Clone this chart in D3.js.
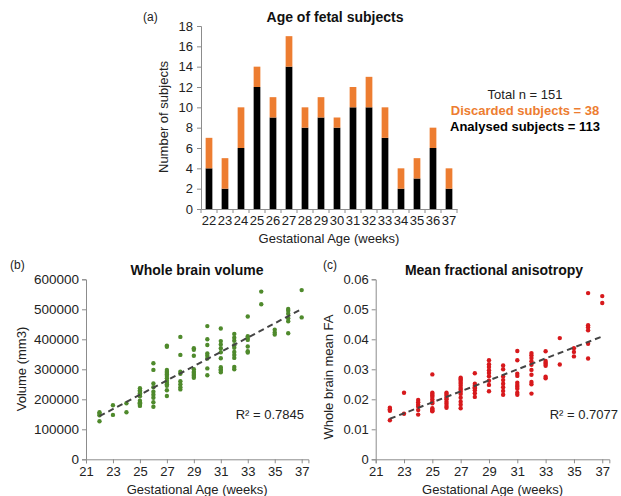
<!DOCTYPE html>
<html><head><meta charset="utf-8">
<script src="https://cdn.jsdelivr.net/npm/d3@7"></script>
<style>body{margin:0;background:#fff}svg{display:block;font-family:"Liberation Sans",Arial,sans-serif}</style>
</head><body><svg id="c" width="621" height="496"></svg>
<script>
// ---------- Data ----------
const weeks = [22,23,24,25,26,27,28,29,30,31,32,33,34,35,36,37];
const analysed  = [4,2,6,12,9,14,8,9,8,10,10,7,2,3,6,2];
const discarded = [3,3,4,2,2,3,2,2,1,2,3,3,2,2,2,2];
const countTicks = [0,2,4,6,8,10,12,14,16,18];

const volumeByWeek = {
  22:[157000,152000,147000,127000],
  23:[180000,148000],
  24:[187000,157000],
  25:[237000,230000,225000,220000,215000,210000,195000,190000,187000,185000,182000,178000],
  26:[320000,298000,253000,240000,225000,215000,205000,190000,175000],
  27:[379000,375000,298000,292000,288000,283000,278000,270000,262000,255000,250000,245000,230000,211000],
  28:[408000,348000,292000,285000,260000,250000,240000,233000],
  29:[370000,365000,345000,300000,292000,288000,282000,278000,272000],
  30:[444000,400000,381000,353000,345000,336000,303000,280000],
  31:[436000,394000,383000,370000,357000,337000,307000,300000,296000,290000],
  32:[418000,405000,395000,380000,372000,358000,348000,338000,308000,300000],
  33:[476000,410000,404000,398000,376000,360000,356000],
  34:[559000,517000],
  35:[432000,423000,416000],
  36:[501000,495000,485000,470000,460000,420000],
  37:[564000,473000]
};
const faByWeek = {
  22:[0.0172,0.0167,0.0162,0.0130],
  23:[0.0222,0.0152],
  24:[0.0198,0.0190,0.0182,0.0175,0.0164,0.0149],
  25:[0.0283,0.0222,0.0218,0.0213,0.0208,0.0200,0.0192,0.0187,0.0170,0.0165,0.0162,0.0160],
  26:[0.0222,0.0218,0.0212,0.0205,0.0200,0.0192,0.0185,0.0178,0.0172],
  27:[0.0272,0.0268,0.0264,0.0258,0.0252,0.0245,0.0238,0.0232,0.0225,0.0218,0.0205,0.0192,0.0182,0.0170],
  28:[0.0287,0.0252,0.0245,0.0240,0.0237,0.0230,0.0220,0.0208],
  29:[0.0330,0.0317,0.0308,0.0297,0.0288,0.0277,0.0262,0.0248,0.0227],
  30:[0.0313,0.0300,0.0276,0.0264,0.0252,0.0240,0.0228,0.0215],
  31:[0.0361,0.0330,0.0285,0.0278,0.0255,0.0248,0.0242,0.0235,0.0222,0.0215],
  32:[0.0354,0.0347,0.0338,0.0327,0.0315,0.0298,0.0282,0.0258,0.0250,0.0219],
  33:[0.0360,0.0328,0.0322,0.0318,0.0312,0.0275,0.0270],
  34:[0.0404,0.0316],
  35:[0.0370,0.0358,0.0343],
  36:[0.0554,0.0447,0.0440,0.0430,0.0385,0.0336],
  37:[0.0544,0.0521]
};
const ageTicks = [21,23,25,27,29,31,33,35,37];
const volumeTicks = [0,100000,200000,300000,400000,500000,600000];
const faTicks = [0,0.01,0.02,0.03,0.04,0.05,0.06];
const r2Volume = "R² = 0.7845";
const r2FA = "R² = 0.7077";

// ---------- Helpers ----------
const svg = d3.select("#c");
const FONT = "#222";
const AXIS = "#8c8c8c";

function styleAxis(g){
  g.select(".domain").attr("stroke",AXIS).attr("stroke-width",1);
  g.selectAll(".tick line").attr("stroke",AXIS);
  g.selectAll(".tick text").attr("fill",FONT).attr("font-size",13).attr("font-family","Liberation Sans, Arial, sans-serif");
}
function flatten(obj){
  const out=[];
  Object.keys(obj).forEach(k=>obj[k].forEach(v=>out.push({x:+k,y:v})));
  return out;
}
function linfit(pts){
  const mx=d3.mean(pts,d=>d.x), my=d3.mean(pts,d=>d.y);
  let sxy=0,sxx=0; pts.forEach(d=>{sxy+=(d.x-mx)*(d.y-my);sxx+=(d.x-mx)**2;});
  const b=sxy/sxx; return {a:my-b*mx,b};
}

// ---------- Panel (a) ----------
{
  const x = d3.scaleBand().domain(weeks).range([201,457]).paddingInner(0.58).paddingOuter(0.29);
  const y = d3.scaleLinear().domain([0,18]).range([209,26]);
  const stackData = weeks.map((w,i)=>({week:w,analysed:analysed[i],discarded:discarded[i]}));
  const series = d3.stack().keys(["analysed","discarded"])(stackData);
  const colors = {analysed:"#000000",discarded:"#ED7D31"};
  svg.append("g").selectAll("g").data(series).join("g")
    .attr("fill",d=>colors[d.key])
    .selectAll("rect").data(d=>d).join("rect")
    .attr("x",d=>x(d.data.week)).attr("width",x.bandwidth())
    .attr("y",d=>y(d[1])).attr("height",d=>y(d[0])-y(d[1]));
  const ya = svg.append("g").attr("transform","translate(201,0)")
    .call(d3.axisLeft(y).tickValues(countTicks).tickSize(4).tickPadding(4));
  styleAxis(ya);
  const xa = svg.append("g").attr("transform","translate(0,209)")
    .call(d3.axisBottom(x).tickSize(0).tickPadding(7));
  styleAxis(xa);
  // boundary ticks between categories
  const step = x.step();
  const x0 = x.range()[0];
  svg.append("g").selectAll("line").data(d3.range(weeks.length+1)).join("line")
    .attr("x1",i=>x0+i*step).attr("x2",i=>x0+i*step).attr("y1",209).attr("y2",213)
    .attr("stroke",AXIS);
  svg.append("text").attr("x",335).attr("y",22).attr("text-anchor","middle")
    .attr("font-weight","bold").attr("font-size",14).attr("fill","#111").text("Age of fetal subjects");
  svg.append("text").attr("x",143).attr("y",21).attr("font-size",12).attr("fill",FONT).text("(a)");
  svg.append("text").attr("transform","translate(168,117) rotate(-90)").attr("text-anchor","middle")
    .attr("font-size",13).attr("fill",FONT).text("Number of subjects");
  svg.append("text").attr("x",329).attr("y",243).attr("text-anchor","middle")
    .attr("font-size",13).attr("fill",FONT).text("Gestational Age (weeks)");
  const leg = [
    {t:"Total n = 151",c:"#222",w:"normal",y:99},
    {t:"Discarded subjects = 38",c:"#ED7D31",w:"bold",y:115},
    {t:"Analysed subjects = 113",c:"#000",w:"bold",y:131}
  ];
  svg.append("g").selectAll("text").data(leg).join("text")
    .attr("x",525).attr("y",d=>d.y).attr("text-anchor","middle").attr("font-size",13)
    .attr("font-weight",d=>d.w).attr("fill",d=>d.c).text(d=>d.t);
}

// ---------- Scatter panels ----------
function scatter(opts){
  const x = d3.scaleLinear().domain([21,37.5]).range([opts.x0, opts.x0 + 16.5*opts.pw]);
  const y = d3.scaleLinear().domain([opts.yTicks[0], opts.yTicks[opts.yTicks.length-1]]).range([opts.y0, 279.3]);
  const ya = svg.append("g").attr("transform",`translate(${opts.x0},0)`)
    .call(d3.axisLeft(y).tickValues(opts.yTicks).tickFormat(opts.fmt).tickSize(4).tickPadding(3));
  styleAxis(ya);
  ya.selectAll(".tick text").attr("font-size",opts.yfs);
  const xa = svg.append("g").attr("transform",`translate(0,${opts.y0})`)
    .call(d3.axisBottom(x).tickValues(ageTicks).tickFormat(d3.format("d")).tickSize(4).tickPadding(3));
  styleAxis(xa);
  const pts = flatten(opts.data);
  svg.append("g").selectAll("circle").data(pts).join("circle")
    .attr("cx",d=>x(d.x)).attr("cy",d=>y(d.y)).attr("r",2.2).attr("fill",opts.color);
  const f = linfit(pts);
  svg.append("line").attr("x1",x(22)).attr("y1",y(f.a+f.b*22)).attr("x2",x(37)).attr("y2",y(f.a+f.b*37))
    .attr("stroke","#444").attr("stroke-width",2).attr("stroke-dasharray","6,4");
  svg.append("text").attr("x",opts.r2x).attr("y",419).attr("text-anchor","end").attr("font-size",13)
    .attr("fill",FONT).text(opts.r2);
  svg.append("text").attr("x",opts.tx).attr("y",275).attr("text-anchor","middle").attr("font-weight","bold")
    .attr("font-size",14).attr("fill","#111").text(opts.title);
  svg.append("text").attr("x",opts.lx).attr("y",269).attr("font-size",12).attr("fill",FONT).text(opts.letter);
  svg.append("text").attr("transform",`translate(${opts.ylx},${opts.yly}) rotate(-90)`).attr("text-anchor","middle")
    .attr("font-size",13).attr("fill",FONT).text(opts.ylab);
  svg.append("text").attr("x",(opts.x0+x.range()[1])/2).attr("y",494).attr("text-anchor","middle")
    .attr("font-size",13).attr("fill",FONT).text("Gestational Age (weeks)");
}
scatter({x0:86,pw:13.48,y0:459.3,yTicks:volumeTicks,fmt:d3.format("d"),data:volumeByWeek,color:"#4f8a2c",yfs:13.5,
  r2:r2Volume,r2x:304,title:"Whole brain volume",tx:197,letter:"(b)",lx:10,ylab:"Volume (mm3)",ylx:26,yly:369});
scatter({x0:375.7,pw:14.16,y0:459.3,yTicks:faTicks,fmt:d=>d===0?"0":d3.format(".2f")(d),data:faByWeek,color:"#d7191c",yfs:13,
  r2:r2FA,r2x:618,title:"Mean fractional anisotropy",tx:494,letter:"(c)",lx:323,ylab:"Whole brain mean FA",ylx:333,yly:377});
</script></body></html>
